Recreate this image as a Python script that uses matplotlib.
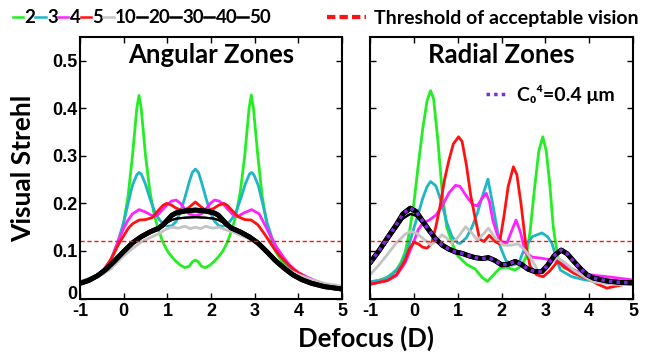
import matplotlib
matplotlib.use("Agg")
import matplotlib.pyplot as plt
from matplotlib.lines import Line2D

# ---- Angular zones (left panel) ----
ang_x_2 = [-1, -0.8, -0.6, -0.5, -0.4, -0.3, -0.2, -0.1, 0, 0.1, 0.2, 0.3, 0.35, 0.4, 0.5, 0.6, 0.7, 0.8, 0.9, 1.0,
           1.1, 1.2, 1.3, 1.4, 1.5, 1.57, 1.64, 1.71, 1.78, 1.87, 1.97, 2.07, 2.17, 2.27, 2.37, 2.47, 2.57, 2.67,
           2.77, 2.87, 2.92, 2.97, 3.07, 3.17, 3.27, 3.37, 3.47, 3.57, 3.7, 3.85, 4.0, 4.2, 4.5, 4.75, 5]
ang_y_2 = [0.035, 0.042, 0.05, 0.056, 0.065, 0.08, 0.098, 0.122, 0.16, 0.215, 0.30, 0.40, 0.427, 0.40, 0.30, 0.225,
           0.175, 0.143, 0.118, 0.1, 0.088, 0.078, 0.07, 0.065, 0.068, 0.077, 0.081, 0.077, 0.068, 0.065, 0.07,
           0.078, 0.088, 0.1, 0.118, 0.143, 0.175, 0.225, 0.30, 0.40, 0.428, 0.40, 0.30, 0.215, 0.16, 0.125,
           0.1, 0.085, 0.07, 0.06, 0.053, 0.044, 0.033, 0.026, 0.021]

ang_x_3 = [-1, -0.7, -0.5, -0.3, -0.15, 0, 0.1, 0.2, 0.3, 0.35, 0.4, 0.5, 0.6, 0.7, 0.8, 0.9, 1.0, 1.1, 1.2, 1.3,
           1.4, 1.5, 1.57, 1.64, 1.71, 1.78, 1.88, 1.98, 2.08, 2.18, 2.28, 2.38, 2.48, 2.58, 2.68, 2.78, 2.88,
           2.93, 2.98, 3.08, 3.18, 3.28, 3.42, 3.55, 3.7, 3.85, 4.0, 4.2, 4.5, 4.75, 5]
ang_y_3 = [0.035, 0.045, 0.056, 0.08, 0.115, 0.16, 0.2, 0.238, 0.26, 0.265, 0.262, 0.24, 0.21, 0.185, 0.168, 0.157,
           0.152, 0.153, 0.162, 0.182, 0.212, 0.245, 0.265, 0.272, 0.265, 0.245, 0.212, 0.182, 0.162, 0.153,
           0.152, 0.157, 0.168, 0.185, 0.21, 0.24, 0.262, 0.265, 0.26, 0.238, 0.2, 0.16, 0.12, 0.095, 0.075,
           0.062, 0.053, 0.044, 0.033, 0.026, 0.021]

ang_x_4 = [-1, -0.7, -0.5, -0.3, -0.13, 0, 0.1, 0.2, 0.35, 0.5, 0.69, 0.8, 0.9, 1.0, 1.1, 1.2, 1.3, 1.4, 1.5, 1.64,
           1.78, 1.88, 1.98, 2.08, 2.18, 2.28, 2.38, 2.48, 2.6, 2.75, 2.93, 3.1, 3.27, 3.4, 3.5, 3.65, 3.8, 4.0,
           4.2, 4.5, 4.75, 5]
ang_y_4 = [0.035, 0.044, 0.055, 0.078, 0.12, 0.148, 0.165, 0.178, 0.187, 0.182, 0.172, 0.178, 0.188, 0.198, 0.205,
           0.207, 0.2, 0.188, 0.178, 0.174, 0.178, 0.188, 0.2, 0.207, 0.205, 0.198, 0.188, 0.178, 0.172, 0.18,
           0.187, 0.178, 0.148, 0.125, 0.108, 0.088, 0.07, 0.055, 0.045, 0.033, 0.026, 0.021]

ang_x_5 = [-1, -0.7, -0.5, -0.3, -0.1, 0, 0.1, 0.2, 0.35, 0.5, 0.65, 0.8, 0.9, 0.98, 1.1, 1.2, 1.37, 1.5, 1.64,
           1.78, 1.9, 2.07, 2.17, 2.29, 2.37, 2.47, 2.62, 2.77, 2.92, 3.07, 3.19, 3.3, 3.42, 3.55, 3.73, 3.9, 4.1,
           4.3, 4.6, 5]
ang_y_5 = [0.034, 0.043, 0.054, 0.082, 0.117, 0.132, 0.147, 0.157, 0.165, 0.166, 0.17, 0.186, 0.196, 0.2, 0.196,
           0.19, 0.184, 0.192, 0.203, 0.192, 0.184, 0.19, 0.196, 0.2, 0.196, 0.186, 0.172, 0.166, 0.165, 0.155,
           0.14, 0.125, 0.108, 0.092, 0.075, 0.06, 0.048, 0.039, 0.03, 0.021]

ang_x_10 = [-1, -0.7, -0.5, -0.3, 0, 0.2, 0.42, 0.6, 0.8, 0.95, 1.1, 1.25, 1.4, 1.52, 1.64, 1.76, 1.88, 2.03, 2.18,
            2.32, 2.5, 2.7, 2.93, 3.19, 3.4, 3.6, 3.8, 4.0, 4.3, 4.6, 5]
ang_y_10 = [0.036, 0.042, 0.05, 0.062, 0.09, 0.105, 0.12, 0.128, 0.136, 0.145, 0.15, 0.148, 0.152, 0.147, 0.15,
            0.147, 0.152, 0.148, 0.15, 0.145, 0.14, 0.132, 0.123, 0.104, 0.087, 0.072, 0.059, 0.05, 0.04, 0.032,
            0.026]

ang_x_hi = [-1, -0.8, -0.6, -0.4, -0.2, 0, 0.2, 0.4, 0.6, 0.8, 0.9, 1.0, 1.1, 1.2, 1.4, 1.64, 1.87, 2.07, 2.17,
            2.27, 2.37, 2.47, 2.67, 2.87, 3.07, 3.27, 3.47, 3.67, 3.87, 4.07, 4.3, 4.6, 5]
ang_y_hi = [0.032, 0.038, 0.048, 0.062, 0.08, 0.099, 0.117, 0.13, 0.14, 0.148, 0.155, 0.165, 0.175, 0.18, 0.184,
            0.186, 0.184, 0.18, 0.175, 0.165, 0.155, 0.148, 0.14, 0.13, 0.117, 0.099, 0.08, 0.064, 0.05, 0.04,
            0.032, 0.025, 0.02]
ang_y_lo = [0.032, 0.038, 0.047, 0.061, 0.078, 0.097, 0.115, 0.128, 0.138, 0.146, 0.152, 0.16, 0.165, 0.168, 0.17,
            0.171, 0.17, 0.168, 0.165, 0.16, 0.152, 0.146, 0.138, 0.128, 0.115, 0.097, 0.078, 0.062, 0.049, 0.039,
            0.031, 0.024, 0.019]

# ---- Radial zones (right panel) ----
rad_x_2 = [-1, -0.8, -0.6, -0.4, -0.3, -0.2, -0.1, 0, 0.1, 0.2, 0.3, 0.38, 0.45, 0.55, 0.65, 0.75, 0.9, 1.0, 1.2,
           1.4, 1.55, 1.68, 1.8, 1.95, 2.1, 2.3, 2.45, 2.55, 2.65, 2.75, 2.85, 2.94, 3.02, 3.1, 3.18, 3.28, 3.4,
           3.6, 3.8, 4.0, 4.5, 5]
rad_y_2 = [0.035, 0.038, 0.045, 0.06, 0.075, 0.097, 0.14, 0.2, 0.28, 0.355, 0.415, 0.437, 0.42, 0.33, 0.22, 0.15,
           0.11, 0.09, 0.072, 0.062, 0.045, 0.036, 0.048, 0.063, 0.066, 0.06, 0.068, 0.085, 0.14, 0.23, 0.31, 0.34,
           0.31, 0.24, 0.15, 0.088, 0.066, 0.058, 0.05, 0.045, 0.038, 0.033]

rad_x_3 = [-1, -0.7, -0.5, -0.3, -0.15, 0, 0.1, 0.2, 0.3, 0.38, 0.5, 0.64, 0.75, 0.87, 1.0, 1.06, 1.2, 1.33, 1.45,
           1.56, 1.69, 1.81, 1.9, 1.97, 2.1, 2.23, 2.39, 2.54, 2.7, 2.92, 3.05, 3.15, 3.25, 3.34, 3.6, 3.91, 4.5, 5]
rad_y_3 = [0.035, 0.04, 0.05, 0.07, 0.1, 0.148, 0.178, 0.21, 0.235, 0.246, 0.237, 0.2, 0.16, 0.13, 0.117, 0.116,
           0.128, 0.151, 0.18, 0.214, 0.251, 0.193, 0.145, 0.109, 0.08, 0.07, 0.074, 0.109, 0.13, 0.138, 0.13,
           0.116, 0.085, 0.06, 0.046, 0.039, 0.035, 0.032]

rad_x_4 = [-1, -0.6, -0.4, -0.2, 0, 0.1, 0.2, 0.35, 0.5, 0.65, 0.8, 0.95, 1.05, 1.2, 1.35, 1.45, 1.55, 1.65, 1.72,
           1.8, 1.9, 2.0, 2.12, 2.22, 2.33, 2.43, 2.54, 2.7, 2.9, 3.2, 3.4, 3.7, 4.0, 4.5, 5]
rad_y_4 = [0.03, 0.038, 0.048, 0.075, 0.12, 0.145, 0.158, 0.165, 0.175, 0.195, 0.222, 0.238, 0.236, 0.215, 0.197,
           0.195, 0.21, 0.221, 0.205, 0.165, 0.135, 0.12, 0.116, 0.14, 0.165, 0.14, 0.097, 0.087, 0.085, 0.08,
           0.072, 0.058, 0.05, 0.045, 0.039]

rad_x_5 = [-1, -0.6, -0.4, -0.2, -0.1, 0, 0.1, 0.2, 0.3, 0.4, 0.5, 0.6, 0.7, 0.8, 0.9, 1.02, 1.1, 1.2, 1.3, 1.4,
           1.5, 1.6, 1.72, 1.85, 1.95, 2.05, 2.15, 2.27, 2.35, 2.45, 2.55, 2.65, 2.8, 2.95, 3.1, 3.28, 3.45, 3.65,
           4.0, 4.2, 4.4, 4.7, 5]
rad_y_5 = [0.03, 0.038, 0.05, 0.08, 0.105, 0.118, 0.115, 0.108, 0.106, 0.115, 0.15, 0.195, 0.25, 0.291, 0.325,
           0.34, 0.33, 0.28, 0.215, 0.168, 0.125, 0.12, 0.133, 0.12, 0.115, 0.17, 0.235, 0.277, 0.26, 0.195, 0.115,
           0.068, 0.05, 0.046, 0.058, 0.078, 0.065, 0.053, 0.04, 0.03, 0.022, 0.028, 0.033]

rad_x_10 = [-1, -0.8, -0.6, -0.4, -0.2, -0.08, 0.05, 0.2, 0.38, 0.5, 0.64, 0.75, 0.87, 1.0, 1.18, 1.3, 1.45, 1.58,
            1.7, 1.85, 2.04, 2.2, 2.38, 2.55, 2.7, 2.82, 2.94, 3.1, 3.26, 3.45, 3.64, 3.9, 4.1, 4.5, 5]
rad_y_10 = [0.05, 0.07, 0.093, 0.117, 0.135, 0.141, 0.138, 0.127, 0.113, 0.12, 0.134, 0.127, 0.116, 0.128, 0.151,
            0.14, 0.123, 0.135, 0.148, 0.128, 0.112, 0.112, 0.115, 0.1, 0.08, 0.06, 0.053, 0.07, 0.087, 0.075,
            0.06, 0.045, 0.035, 0.03, 0.029]

rad_x_hi = [-1, -0.8, -0.6, -0.4, -0.25, -0.08, 0.05, 0.2, 0.35, 0.5, 0.65, 0.8, 0.95, 1.1, 1.25, 1.4, 1.55, 1.7,
            1.85, 2.0, 2.15, 2.31, 2.45, 2.6, 2.75, 2.92, 3.05, 3.2, 3.36, 3.5, 3.65, 3.8, 3.95, 4.1, 4.4, 4.7, 5]
rad_y_hi = [0.075, 0.1, 0.128, 0.155, 0.178, 0.19, 0.183, 0.163, 0.143, 0.125, 0.112, 0.104, 0.098, 0.095, 0.09,
            0.086, 0.084, 0.086, 0.08, 0.071, 0.072, 0.078, 0.072, 0.062, 0.057, 0.057, 0.07, 0.09, 0.102, 0.094,
            0.078, 0.063, 0.05, 0.043, 0.037, 0.034, 0.033]
rad_y_lo = [0.072, 0.096, 0.122, 0.148, 0.168, 0.178, 0.174, 0.158, 0.14, 0.123, 0.11, 0.103, 0.097, 0.094, 0.089,
            0.085, 0.083, 0.085, 0.079, 0.07, 0.071, 0.077, 0.071, 0.061, 0.056, 0.056, 0.069, 0.089, 0.1, 0.092,
            0.077, 0.062, 0.049, 0.042, 0.036, 0.033, 0.032]
# C0^4 = 0.4 um reference curve (sits on top of the black bundle)
rad_y_c04 = rad_y_hi

zone_labels = ["2", "3", "4", "5", "10", "20", "30", "40", "50"]
zone_colors = ["#22ee22", "#1fb5c5", "#ff22ff", "#ff1111", "#c4c4c4", "k", "k", "k", "k"]
threshold = 0.12

x_ticks = [-1, 0, 1, 2, 3, 4, 5]
y_ticks = [0, 0.1, 0.2, 0.3, 0.4, 0.5]
y_ticklabels = ["0", "0.1", "0.2", "0.3", "0.4", "0.5"]

TXT = ["Lato", "DejaVu Sans"]
NARROW = ["Liberation Sans Narrow", "Liberation Sans", "DejaVu Sans"]

fig = plt.figure(figsize=(6.48, 3.58), dpi=100)
ax1 = fig.add_axes([0.1235, 0.166, 0.4045, 0.731])
ax2 = fig.add_axes([0.571, 0.166, 0.406, 0.731])


def draw_panel(ax, series, title, ylabels):
    for (xs, ys, col, lw) in series:
        ax.plot(xs, ys, color=col, lw=lw, solid_capstyle="round")
    ax.axhline(threshold, color="#ff1111", ls=(0, (3, 2)), lw=1.0)
    ax.set_xlim(-1, 5)
    ax.set_ylim(0, 0.55)
    ax.set_xticks(x_ticks)
    ax.set_yticks(y_ticks)
    ax.set_xticklabels([str(t) for t in x_ticks], family=NARROW, weight="bold", fontsize=13)
    if ylabels:
        labs = ax.set_yticklabels(y_ticklabels, family=NARROW, weight="bold", fontsize=13)
        # the "0" sits on the axis line, as in the original, clear of the "-1" below
        labs[0].set_va("baseline")
    else:
        ax.set_yticklabels([])
    ax.tick_params(direction="in", top=True, right=True, length=4, width=1)
    ax.tick_params(axis="x", pad=3.5)
    ax.tick_params(axis="y", pad=2)
    for s in ax.spines.values():
        s.set_linewidth(1.5)
    ax.text(0.5, 0.93, title, transform=ax.transAxes, ha="center", va="center",
            family=TXT, weight="bold", fontsize=18.5)


ang_series = [
    (ang_x_2, ang_y_2, zone_colors[0], 2.0),
    (ang_x_3, ang_y_3, zone_colors[1], 2.0),
    (ang_x_4, ang_y_4, zone_colors[2], 2.0),
    (ang_x_5, ang_y_5, zone_colors[3], 2.0),
    (ang_x_10, ang_y_10, zone_colors[4], 2.0),
    (ang_x_hi, ang_y_hi, "k", 3.5),
    (ang_x_hi, ang_y_hi, "k", 3.5),
    (ang_x_hi, ang_y_lo, "k", 1.5),
    (ang_x_hi, ang_y_lo, "k", 1.5),
]
rad_series = [
    (rad_x_2, rad_y_2, zone_colors[0], 2.0),
    (rad_x_3, rad_y_3, zone_colors[1], 2.0),
    (rad_x_4, rad_y_4, zone_colors[2], 2.0),
    (rad_x_5, rad_y_5, zone_colors[3], 2.0),
    (rad_x_10, rad_y_10, zone_colors[4], 2.0),
    (rad_x_hi, rad_y_hi, "k", 3.5),
    (rad_x_hi, rad_y_hi, "k", 3.5),
    (rad_x_hi, rad_y_lo, "k", 1.5),
    (rad_x_hi, rad_y_lo, "k", 1.5),
]

draw_panel(ax1, ang_series, "Angular Zones", True)
draw_panel(ax2, rad_series, "Radial Zones", False)

c04, = ax2.plot(rad_x_hi, rad_y_c04, color="#7b2be0", lw=2.5, ls=(0, (1, 1.2)))
ax2.legend([c04], ["C\u2080\u2074=0.4 \u03bcm"], loc="center left", bbox_to_anchor=(0.41, 0.78),
           frameon=False, handlelength=1.2, handletextpad=0.4, borderaxespad=0,
           prop={"family": TXT, "weight": "bold", "size": 14})

# shared legend across the top
handles = [Line2D([], [], color=c, lw=1.8) for c in zone_colors]
fig.legend(handles, zone_labels, loc="upper left", bbox_to_anchor=(0.005, 1.0), ncol=9,
           frameon=False, handlelength=0.55, handletextpad=0.08, columnspacing=0.0, borderaxespad=0.1,
           prop={"family": TXT, "weight": "bold", "size": 13.5})
thr = Line2D([], [], color="#ff1111", lw=3, ls=(0, (2, 1)))
fig.legend([thr], ["Threshold of acceptable vision"], loc="upper right", bbox_to_anchor=(1.0, 1.0),
           frameon=False, handlelength=2.0, handletextpad=0.4, borderaxespad=0.1,
           prop={"family": TXT, "weight": "bold", "size": 14})

fig.text(0.036, 0.53, "Visual Strehl", rotation=90, ha="center", va="center",
         family=TXT, weight="bold", fontsize=19)
fig.text(0.565, 0.055, "Defocus (D)", ha="center", va="center",
         family=TXT, weight="bold", fontsize=18.5)

fig.savefig("out.png", dpi=100)
